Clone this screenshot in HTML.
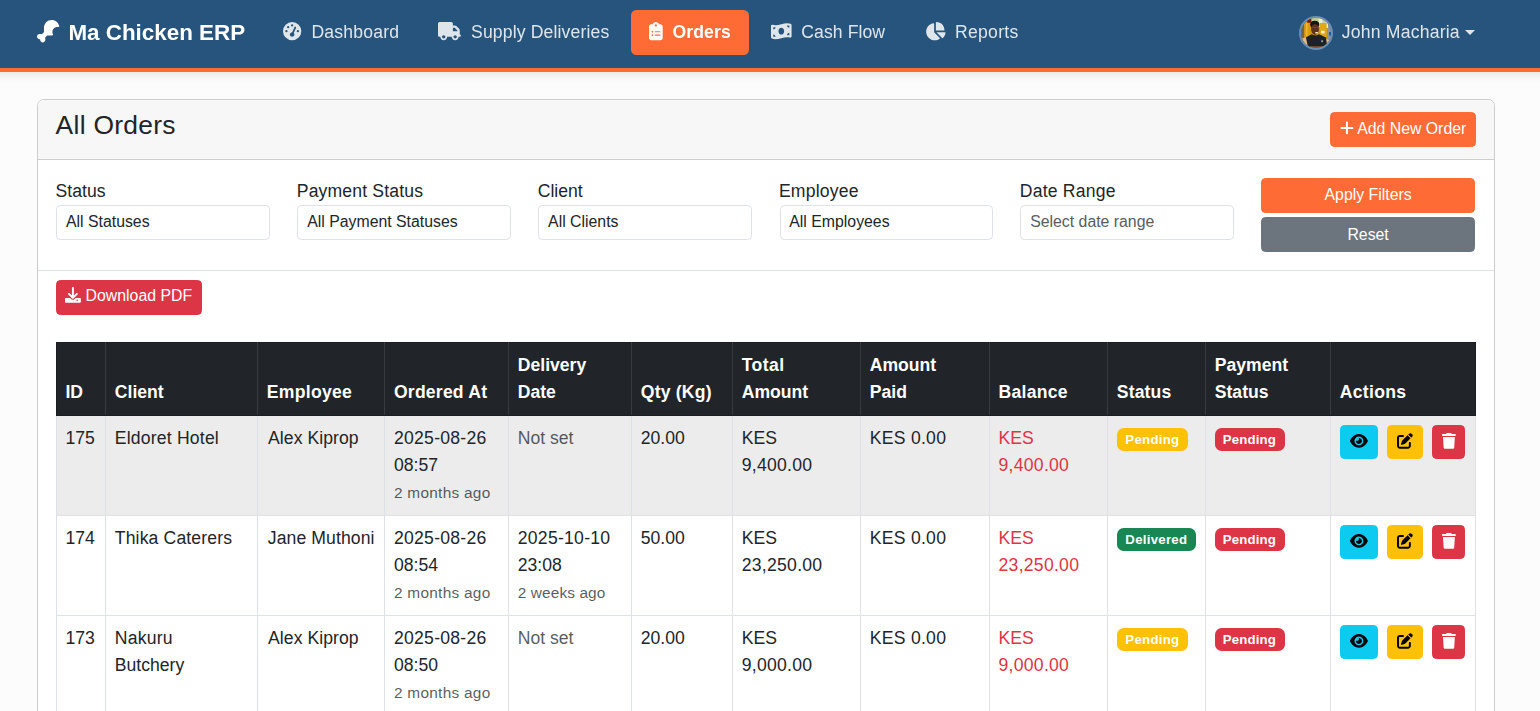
<!DOCTYPE html>
<html lang="en">
<head>
<meta charset="utf-8">
<title>All Orders - Ma Chicken ERP</title>
<style>
html{font-size:17.6px}
*{box-sizing:border-box}
body{margin:0;width:1540px;height:711px;overflow:hidden;background:#fcfcfc;color:#212529;
 font-family:"Liberation Sans",Arial,sans-serif;font-size:17.6px;line-height:27.28px;position:relative}
svg.i{display:inline-block;height:1em;vertical-align:-0.125em;fill:currentColor;overflow:visible}

/* navbar */
.nb{will-change:transform;position:absolute;left:0;top:0;width:1540px;height:72px;background:#26547c;border-bottom:4px solid #ff6b35;
 }
.nbs{position:absolute;left:-30px;top:0;width:1600px;height:72px;box-shadow:0 2px 10px rgba(0,0,0,.1)}
.brand{position:absolute;left:37px;top:10px;height:45.7px;padding-top:5.5px;font-size:22.4px;font-weight:700;color:#fff;line-height:34.72px;white-space:nowrap}
.brand svg{width:22.4px;margin-right:9px}
.nl{position:absolute;top:10.1px;height:44.8px;padding:8.8px 17.6px;color:rgba(255,255,255,.85);white-space:nowrap;border-radius:5.3px;font-size:17.6px;line-height:27.28px}
.nl svg{margin-right:9.3px;height:1.04em;vertical-align:-.165em}
.nl.act{background:#ff6b35;color:#fff;font-weight:700}
.user{position:absolute;top:10.1px;left:1298.8px;height:44.8px;color:rgba(255,255,255,.85);white-space:nowrap;line-height:27.28px;padding-top:8.8px}
.avatar{position:absolute;left:.2px;top:5.9px;width:34px;height:34px;border-radius:50%;border:2px solid #6a8fb4;overflow:hidden;background:#7a6a20}
.uname{position:absolute;left:43px;top:8.8px;letter-spacing:.2px}
.caret{position:absolute;left:166.4px;top:20px;width:0;height:0;border-top:5.28px solid rgba(255,255,255,.85);border-left:5.28px solid transparent;border-right:5.28px solid transparent}

/* card */
.card{position:absolute;left:37px;top:99px;width:1458px;height:700px;background:#fff;border:1px solid #cdcdcd;border-radius:6.6px 6.6px 0 0}
.ch{position:absolute;left:0;top:0;width:1456px;height:60px;background:#f7f7f7;border-bottom:1px solid #cdcdcd;border-radius:5.6px 5.6px 0 0}
.ch h4{position:absolute;left:17.6px;top:10.1px;letter-spacing:.29px;margin:0;font-size:26.4px;font-weight:500;line-height:31.68px;font-weight:400;white-space:nowrap}
.btn{display:inline-block;font-size:15.84px;line-height:23.76px;padding:3.9px 8.8px 4.9px;border:1px solid transparent;border-radius:4.4px;color:#fff;white-space:nowrap;text-align:center;vertical-align:middle}
.b-or{background:#ff6b35;border-color:#ff6b35}
.b-gr{background:#6c757d;border-color:#6c757d}
.b-rd{background:#dc3545;border-color:#dc3545}
.b-cy{background:#0dcaf0;border-color:#0dcaf0;color:#000}
.b-yl{background:#ffc107;border-color:#ffc107;color:#000}
.addbtn{position:absolute;left:1292px;top:12.4px}
.flt{position:absolute;left:0;top:60px;width:1456px;height:111px;border-bottom:1px solid #dee2e6}
.fc{position:absolute;top:17.6px;width:213.8px}
.fc label{display:block;height:27.28px;white-space:nowrap;margin-left:-.6px}
.sel{margin-top:0.2px;height:34.7px;border:1px solid #dee2e6;border-radius:4.4px;background:#fff;font-size:15.84px;line-height:23.76px;padding:3.8px 8.8px 5px;white-space:nowrap;color:#212529}
.sel.ph{color:#595c5f}
.fb{position:absolute;left:1223px;width:214.2px}
.fb .btn{display:block;width:100%;padding:4.7px 8.8px 4.5px}
.dl{position:absolute;left:17.6px;top:180.4px;padding-top:2.6px;padding-bottom:6.2px}
.dl svg{position:relative;top:-.5px}

/* table */
table{position:absolute;left:17.6px;top:241.5px;width:1419px;border-collapse:collapse;table-layout:fixed}
th,td{padding:8.8px;border:1px solid #dee2e6;text-align:left;vertical-align:top;font-weight:400;line-height:27.28px}
thead th{background:#212529;color:#fff;border-color:#373b3e;border-top-color:#1b1e21;border-bottom-color:#1b1e21;font-weight:700;vertical-align:bottom}
thead th:first-child{border-left-color:#1b1e21}
thead th:last-child{border-right-color:#1b1e21}
tbody td{padding-top:9.1px;padding-bottom:8.06px}
thead th{padding-top:9.1px;padding-bottom:8.5px}
tbody tr.hv td{background:#ececec}
small{font-size:15.4px;letter-spacing:.27px}
.n{letter-spacing:.26px}
.mut{color:rgba(33,37,41,.75)}
.red{color:#dc3545}
.badge{display:inline-block;font-size:13.2px;font-weight:700;line-height:13.2px;padding:5px 8.58px;border-radius:6.6px;color:#fff;white-space:nowrap;vertical-align:baseline;position:relative;top:.1px}
.bg-w{background:#ffc107;letter-spacing:.3px}
.bg-s{background:#198754;letter-spacing:.29px}
.bg-d{background:#dc3545;letter-spacing:.16px;text-indent:-.5px;padding-right:9.2px}
td.act .btn{padding:3.8px 0 4.74px;position:relative;top:0;left:.1px}
.be{width:38px;margin-right:9.1px}.bp{width:36px;margin-right:9px}.bt{width:33px}
td.act{white-space:nowrap;font-size:17.6px}
</style>
</head>
<body>
<div class="nbs"></div>
<nav class="nb">
 <div class="brand"><svg class="i" viewBox="0 0 512 512"><path d="M160 265.200c0 8.500-3.400 16.600-9.400 22.600l-26.800 26.800c-12.300 12.300-32.500 11.400-49.400 7.200C69.800 320.600 65 320 60 320c-33.100 0-60 26.900-60 60s26.900 60 60 60c6.300 0 12 5.700 12 12c0 33.100 26.900 60 60 60s60-26.900 60-60c0-5-.6-9.800-1.800-14.500c-4.200-16.900-5.200-37.100 7.200-49.400l26.800-26.800c6-6 14.100-9.400 22.600-9.400H336c6.300 0 12.400-.3 18.500-1c11.900-1.200 16.400-15.500 10.800-26c-8.500-15.800-13.300-33.800-13.300-53c0-61.900 50.100-112 112-112c8 0 15.700 .8 23.200 2.400c11.700 2.500 24.100-5.900 22-17.600C494.500 62.500 422.500 0 336 0C238.800 0 160 78.800 160 176v89.200z"/></svg>Ma Chicken ERP</div>
 <div class="nl" style="left:265.4px;letter-spacing:.2px"><svg class="i" style="width:18.3px;margin-right:10.2px" viewBox="0 0 512 512"><path d="M0 256a256 256 0 1 1 512 0A256 256 0 1 1 0 256zM288 96a32 32 0 1 0 -64 0 32 32 0 1 0 64 0zM256 416c35.300 0 64-28.700 64-64c0-17.400-6.900-33.100-18.100-44.600L366 161.700c5.300-12.100-.2-26.300-12.300-31.600s-26.300 .2-31.600 12.300L257.900 288c-.6 0-1.300 0-1.900 0c-35.300 0-64 28.700-64 64s28.700 64 64 64zM176 144a32 32 0 1 0 -64 0 32 32 0 1 0 64 0zM96 288a32 32 0 1 0 0-64 32 32 0 1 0 0 64zm352-32a32 32 0 1 0 -64 0 32 32 0 1 0 64 0z"/></svg>Dashboard</div>
 <div class="nl" style="left:420.4px;letter-spacing:.14px"><svg class="i" style="width:22.9px;margin-right:10.2px" viewBox="0 0 640 512"><path d="M48 0C21.500 0 0 21.500 0 48V368c0 26.500 21.500 48 48 48H64c0 53 43 96 96 96s96-43 96-96H384c0 53 43 96 96 96s96-43 96-96h32c17.700 0 32-14.300 32-32s-14.300-32-32-32V288 256 237.300c0-17-6.700-33.300-18.700-45.300L512 114.700c-12-12-28.300-18.700-45.300-18.700H416V48c0-26.500-21.500-48-48-48H48zM416 160h50.700L544 237.300V256H416V160zM112 416a48 48 0 1 1 96 0 48 48 0 1 1 -96 0zm368-48a48 48 0 1 1 0 96 48 48 0 1 1 0-96z"/></svg>Supply Deliveries</div>
 <div class="nl act" style="left:630.8px;width:118.2px;padding-left:18.6px;letter-spacing:.12px"><svg class="i" style="width:13.7px" viewBox="0 0 384 512"><path d="M192 0c-41.800 0-77.400 26.700-90.500 64H64C28.700 64 0 92.700 0 128V448c0 35.300 28.700 64 64 64H320c35.300 0 64-28.700 64-64V128c0-35.300-28.700-64-64-64H282.500C269.400 26.700 233.800 0 192 0zm0 64a32 32 0 1 1 0 64 32 32 0 1 1 0-64zM72 272a24 24 0 1 1 48 0 24 24 0 1 1 -48 0zm104-16H304c8.800 0 16 7.200 16 16s-7.200 16-16 16H176c-8.800 0-16-7.200-16-16s7.200-16 16-16zM72 368a24 24 0 1 1 48 0 24 24 0 1 1 -48 0zm88 0c0-8.800 7.200-16 16-16H304c8.800 0 16 7.200 16 16s-7.200 16-16 16H176c-8.800 0-16-7.200-16-16z"/></svg>Orders</div>
 <div class="nl" style="left:753.8px;letter-spacing:.08px"><svg class="i" style="width:20.6px" viewBox="0 0 576 512"><path d="M0 112.500V422.300c0 18 10.100 35 27 41.300c87 32.500 174 10.300 261-11.900c79.800-20.300 159.600-40.700 239.300-18.900c23 6.300 48.700-9.500 48.700-33.400V89.700c0-18-10.100-35-27-41.300C462 15.900 375 38.100 288 60.300C208.200 80.600 128.400 100.900 48.700 79.100C25.600 72.800 0 88.600 0 112.500zM288 352c-44.200 0-80-43-80-96s35.800-96 80-96s80 43 80 96s-35.800 96-80 96zM64 352c35.300 0 64 28.700 64 64H64V352zm64-208c0 35.300-28.700 64-64 64V144h64zM512 304v64H448c0-35.300 28.700-64 64-64zM448 96h64v64c-35.300 0-64-28.700-64-64z"/></svg>Cash Flow</div>
 <div class="nl" style="left:907.4px;letter-spacing:.3px"><svg class="i" style="width:20.6px" viewBox="0 0 576 512"><path d="M304 240V16.600c0-9 7-16.600 16-16.600C443.700 0 544 100.300 544 224c0 9-7.600 16-16.600 16H304zM32 272C32 150.700 122.100 50.300 239 34.300c9.200-1.300 17 6.100 17 15.400V288L412.500 444.500c6.700 6.700 6.200 17.700-1.500 23.100C371.800 495.600 323.800 512 272 512C139.500 512 32 404.600 32 272zm526.400 16c9.300 0 16.600 7.800 15.400 17c-7.700 55.900-34.600 105.600-73.900 142.300c-6 5.600-15.400 5.200-21.200-.7L320 288H558.400z"/></svg>Reports</div>
 <div class="user">
  <div class="avatar"><svg viewBox="0 0 30 30" width="30" height="30" style="display:block"><defs><filter id="bl" x="-10%" y="-10%" width="120%" height="120%"><feGaussianBlur stdDeviation="0.45"/></filter></defs><g filter="url(#bl)"><rect x="-2" y="-2" width="34" height="34" fill="#c2921c"/><rect x="-2" y="-2" width="5.300" height="34" fill="#6d6a48"/><rect x="3.300" y="4" width="6.500" height="16" fill="#dc9a10"/><rect x="5" y="5" width="1.500" height="13" fill="#f0b830"/><rect x="6.200" y="0.500" width="4.300" height="4.200" fill="#7a1418"/><rect x="10.500" y="-2" width="17" height="11" fill="#c4cc98"/><rect x="17.600" y="0" width="3.900" height="9" fill="#e6efd0"/><rect x="24.500" y="2" width="3" height="8" fill="#e4ecd0"/><rect x="18.600" y="5" width="7" height="14" fill="#e0a818"/><rect x="20" y="12.800" width="3.600" height="2.600" fill="#f8f0cc"/><rect x="27" y="4" width="5" height="22" fill="#8a96a0"/><rect x="28" y="14" width="2.500" height="3.500" fill="#1c5ca0"/><ellipse cx="13.700" cy="6.400" rx="4.500" ry="3.600" fill="#151515"/><ellipse cx="14" cy="11.300" rx="3.900" ry="5.400" fill="#5e3220"/><rect x="11" y="9.200" width="6.500" height=".8" fill="#6e4a3a"/><rect x="14.200" y="13.900" width="2.800" height="1.500" rx=".6" fill="#f4ece4"/><path d="M1.200 20.400L5.600 19 9.600 28.400 4.200 28z" fill="#e8b88a"/><path d="M24.300 20.400L28.200 22.300 26.600 27.200 22.600 27.600z" fill="#e8b88a"/><path d="M4.900 19.600L10.500 16.300 13 17.200 16 17.200 18.200 16.300 24.900 19.400 26.400 29 7.200 30z" fill="#1c2428"/><rect x="9" y="28.300" width="13.500" height="3" fill="#8a5638"/><rect x="20.200" y="22.300" width="1.800" height="1.800" fill="#98a0a0"/></g></svg></div>
  <span class="uname">John Macharia</span><span class="caret"></span>
 </div>
</nav>

<div class="card">
 <div class="ch">
  <h4>All Orders</h4>
  <span class="btn b-or addbtn"><svg class="i" style="width:13.86px" viewBox="0 0 448 512"><path d="M256 80c0-17.700-14.300-32-32-32s-32 14.300-32 32V224H48c-17.700 0-32 14.300-32 32s14.300 32 32 32H192V432c0 17.700 14.300 32 32 32s32-14.300 32-32V288H400c17.700 0 32-14.300 32-32s-14.300-32-32-32H256V80z"/></svg> Add New Order</span>
 </div>
 <div class="flt">
  <div class="fc" style="left:18.2px"><label>Status</label><div class="sel">All Statuses</div></div>
  <div class="fc" style="left:259.4px"><label style="letter-spacing:.15px">Payment Status</label><div class="sel">All Payment Statuses</div></div>
  <div class="fc" style="left:500.3px"><label>Client</label><div class="sel">All Clients</div></div>
  <div class="fc" style="left:741.5px"><label style="letter-spacing:.2px">Employee</label><div class="sel">All Employees</div></div>
  <div class="fc" style="left:982.4px"><label style="letter-spacing:.2px">Date Range</label><div class="sel ph">Select date range</div></div>
  <div class="fb" style="top:17.8px"><span class="btn b-or">Apply Filters</span></div>
  <div class="fb" style="top:57px"><span class="btn b-gr">Reset</span></div>
 </div>
 <span class="btn b-rd dl"><svg class="i" style="width:15.84px" viewBox="0 0 512 512"><path d="M288 32c0-17.700-14.300-32-32-32s-32 14.300-32 32V274.700l-73.400-73.400c-12.500-12.500-32.800-12.500-45.300 0s-12.500 32.800 0 45.300l128 128c12.500 12.500 32.800 12.500 45.300 0l128-128c12.500-12.500 12.500-32.800 0-45.300s-32.800-12.500-45.300 0L288 274.700V32zM28 352c-15.500 0-28 12.500-28 28v104c0 15.500 12.500 28 28 28H484c15.500 0 28-12.500 28-28V380c0-15.500-12.500-28-28-28H346.500l-45.300 45.300c-25 25-65.500 25-90.500 0L165.500 352H28zm368 56a24 24 0 1 1 0 48 24 24 0 1 1 0-48z"/></svg> Download PDF</span>

 <table>
  <colgroup><col style="width:49.4px"><col style="width:152px"><col style="width:127.2px"><col style="width:123.8px"><col style="width:123px"><col style="width:101px"><col style="width:128px"><col style="width:128.8px"><col style="width:118.2px"><col style="width:98px"><col style="width:125px"><col style="width:144.6px"></colgroup>
  <thead><tr><th>ID</th><th>Client</th><th style="letter-spacing:.28px">Employee</th><th style="letter-spacing:.2px">Ordered At</th><th>Delivery<br>Date</th><th style="letter-spacing:.2px">Qty (Kg)</th><th><span style="letter-spacing:.4px">Total</span><br>Amount</th><th>Amount<br>Paid</th><th style="letter-spacing:.25px">Balance</th><th style="letter-spacing:.15px">Status</th><th>Payment<br>Status</th><th style="letter-spacing:.3px">Actions</th></tr></thead>
  <tbody>
   <tr class="hv"><td>175</td><td style="letter-spacing:.19px">Eldoret Hotel</td><td style="white-space:nowrap;text-indent:1.3px;letter-spacing:.05px">Alex Kiprop</td><td><span class="n">2025-08-26</span><br>08:57<br><small class="mut">2 months ago</small></td><td><span class="mut">Not set</span></td><td>20.00</td><td>KES<br><span class="n">9,400.00</span></td><td class="n">KES 0.00</td><td class="red">KES<br><span class="n">9,400.00</span></td><td><span class="badge bg-w">Pending</span></td><td><span class="badge bg-d">Pending</span></td><td class="act"><span class="btn b-cy be"><svg class="i" style="width:17.82px" viewBox="0 0 576 512"><path d="M288 32c-80.800 0-145.500 36.800-192.600 80.600C48.600 156 17.300 208 2.500 243.700c-3.300 7.900-3.300 16.700 0 24.600C17.300 304 48.600 356 95.400 399.400C142.500 443.200 207.200 480 288 480s145.500-36.800 192.600-80.600c46.800-43.500 78.100-95.400 93-131.100c3.300-7.900 3.300-16.700 0-24.600c-14.900-35.700-46.200-87.700-93-131.100C433.500 68.800 368.800 32 288 32zM144 256a144 144 0 1 1 288 0 144 144 0 1 1 -288 0zm144-64c0 35.300-28.700 64-64 64c-7.100 0-13.900-1.200-20.300-3.300c-5.500-1.800-11.900 1.600-11.700 7.400c.3 6.900 1.300 13.800 3.200 20.700c13.700 51.200 66.400 81.600 117.600 67.900s81.600-66.400 67.900-117.600c-11.100-41.500-47.800-69.400-88.600-71.100c-5.800-.2-9.200 6.100-7.400 11.700c2.100 6.400 3.300 13.200 3.300 20.300z"/></svg></span><span class="btn b-yl bp"><svg class="i" style="width:15.84px" viewBox="0 0 512 512"><path d="M471.600 21.700c-21.900-21.900-57.300-21.900-79.200 0L362.300 51.700l97.900 97.900 30.100-30.100c21.900-21.900 21.900-57.300 0-79.200L471.600 21.700zm-299.200 220c-6.100 6.100-10.800 13.600-13.500 21.900l-29.600 88.800c-2.900 8.600-.6 18.100 5.800 24.600s15.900 8.700 24.600 5.800l88.800-29.600c8.200-2.700 15.700-7.400 21.900-13.500L437.700 172.300 339.700 74.300 172.400 241.700zM96 64C43 64 0 107 0 160V416c0 53 43 96 96 96H352c53 0 96-43 96-96V320c0-17.700-14.300-32-32-32s-32 14.300-32 32v96c0 17.700-14.300 32-32 32H96c-17.700 0-32-14.300-32-32V160c0-17.700 14.300-32 32-32h96c17.700 0 32-14.300 32-32s-14.300-32-32-32H96z"/></svg></span><span class="btn b-rd bt"><svg class="i" style="width:13.86px" viewBox="0 0 448 512"><path d="M135.200 17.700L128 32H32C14.300 32 0 46.300 0 64S14.300 96 32 96H416c17.700 0 32-14.300 32-32s-14.300-32-32-32H320l-7.200-14.300C307.400 6.800 296.300 0 284.200 0H163.800c-12.100 0-23.200 6.800-28.600 17.700zM416 128H32L53.200 467c1.600 25.300 22.600 45 47.900 45H346.900c25.300 0 46.300-19.700 47.900-45L416 128z"/></svg></span></td></tr>
   <tr><td>174</td><td style="letter-spacing:.14px">Thika Caterers</td><td style="white-space:nowrap;text-indent:1px;letter-spacing:.1px">Jane Muthoni</td><td><span class="n">2025-08-26</span><br>08:54<br><small class="mut">2 months ago</small></td><td><span class="n">2025-10-10</span><br>23:08<br><small class="mut" style="letter-spacing:.11px">2 weeks ago</small></td><td>50.00</td><td>KES<br><span class="n">23,250.00</span></td><td class="n">KES 0.00</td><td class="red">KES<br><span class="n">23,250.00</span></td><td><span class="badge bg-s">Delivered</span></td><td><span class="badge bg-d">Pending</span></td><td class="act"><span class="btn b-cy be"><svg class="i" style="width:17.82px" viewBox="0 0 576 512"><path d="M288 32c-80.800 0-145.500 36.800-192.600 80.600C48.600 156 17.300 208 2.500 243.700c-3.300 7.900-3.300 16.700 0 24.600C17.300 304 48.600 356 95.400 399.400C142.500 443.200 207.200 480 288 480s145.500-36.800 192.600-80.600c46.800-43.500 78.100-95.400 93-131.100c3.300-7.900 3.300-16.700 0-24.600c-14.900-35.700-46.200-87.700-93-131.100C433.500 68.800 368.800 32 288 32zM144 256a144 144 0 1 1 288 0 144 144 0 1 1 -288 0zm144-64c0 35.300-28.700 64-64 64c-7.100 0-13.900-1.200-20.300-3.300c-5.500-1.800-11.900 1.600-11.700 7.400c.3 6.900 1.300 13.800 3.200 20.700c13.700 51.200 66.400 81.600 117.600 67.900s81.600-66.400 67.900-117.600c-11.100-41.500-47.800-69.400-88.600-71.100c-5.800-.2-9.200 6.100-7.400 11.700c2.100 6.400 3.300 13.200 3.300 20.300z"/></svg></span><span class="btn b-yl bp"><svg class="i" style="width:15.84px" viewBox="0 0 512 512"><path d="M471.600 21.700c-21.900-21.900-57.300-21.900-79.200 0L362.300 51.700l97.900 97.900 30.100-30.100c21.900-21.900 21.900-57.300 0-79.200L471.600 21.700zm-299.200 220c-6.100 6.100-10.800 13.600-13.500 21.900l-29.600 88.800c-2.900 8.600-.6 18.100 5.800 24.600s15.900 8.700 24.600 5.800l88.800-29.600c8.200-2.700 15.700-7.400 21.900-13.500L437.700 172.300 339.700 74.300 172.400 241.700zM96 64C43 64 0 107 0 160V416c0 53 43 96 96 96H352c53 0 96-43 96-96V320c0-17.700-14.300-32-32-32s-32 14.300-32 32v96c0 17.700-14.300 32-32 32H96c-17.700 0-32-14.300-32-32V160c0-17.700 14.300-32 32-32h96c17.700 0 32-14.300 32-32s-14.300-32-32-32H96z"/></svg></span><span class="btn b-rd bt"><svg class="i" style="width:13.86px" viewBox="0 0 448 512"><path d="M135.200 17.700L128 32H32C14.300 32 0 46.300 0 64S14.300 96 32 96H416c17.700 0 32-14.300 32-32s-14.300-32-32-32H320l-7.200-14.300C307.400 6.800 296.300 0 284.200 0H163.800c-12.100 0-23.200 6.800-28.600 17.700zM416 128H32L53.200 467c1.600 25.300 22.600 45 47.900 45H346.900c25.300 0 46.300-19.700 47.900-45L416 128z"/></svg></span></td></tr>
   <tr><td>173</td><td><span style="letter-spacing:.2px">Nakuru</span><br>Butchery</td><td style="white-space:nowrap;text-indent:1.3px;letter-spacing:.05px">Alex Kiprop</td><td><span class="n">2025-08-26</span><br>08:50<br><small class="mut">2 months ago</small></td><td><span class="mut">Not set</span></td><td>20.00</td><td>KES<br><span class="n">9,000.00</span></td><td class="n">KES 0.00</td><td class="red">KES<br><span class="n">9,000.00</span></td><td><span class="badge bg-w">Pending</span></td><td><span class="badge bg-d">Pending</span></td><td class="act"><span class="btn b-cy be"><svg class="i" style="width:17.82px" viewBox="0 0 576 512"><path d="M288 32c-80.800 0-145.500 36.800-192.600 80.600C48.600 156 17.300 208 2.500 243.700c-3.300 7.900-3.300 16.700 0 24.600C17.300 304 48.600 356 95.400 399.400C142.500 443.200 207.200 480 288 480s145.500-36.800 192.600-80.600c46.800-43.500 78.100-95.400 93-131.100c3.300-7.900 3.300-16.700 0-24.600c-14.900-35.700-46.200-87.700-93-131.100C433.500 68.800 368.800 32 288 32zM144 256a144 144 0 1 1 288 0 144 144 0 1 1 -288 0zm144-64c0 35.300-28.700 64-64 64c-7.100 0-13.900-1.200-20.300-3.300c-5.500-1.800-11.900 1.600-11.700 7.400c.3 6.900 1.300 13.800 3.200 20.700c13.700 51.200 66.400 81.600 117.600 67.900s81.600-66.400 67.900-117.600c-11.100-41.500-47.800-69.400-88.600-71.100c-5.800-.2-9.200 6.100-7.400 11.700c2.100 6.400 3.300 13.200 3.300 20.300z"/></svg></span><span class="btn b-yl bp"><svg class="i" style="width:15.84px" viewBox="0 0 512 512"><path d="M471.600 21.700c-21.900-21.900-57.300-21.900-79.200 0L362.300 51.700l97.900 97.900 30.100-30.100c21.900-21.900 21.900-57.300 0-79.200L471.600 21.700zm-299.200 220c-6.100 6.100-10.800 13.600-13.500 21.900l-29.600 88.800c-2.900 8.600-.6 18.100 5.800 24.600s15.900 8.700 24.600 5.800l88.800-29.600c8.200-2.700 15.700-7.400 21.900-13.500L437.700 172.300 339.700 74.300 172.400 241.700zM96 64C43 64 0 107 0 160V416c0 53 43 96 96 96H352c53 0 96-43 96-96V320c0-17.700-14.300-32-32-32s-32 14.300-32 32v96c0 17.700-14.300 32-32 32H96c-17.700 0-32-14.300-32-32V160c0-17.700 14.300-32 32-32h96c17.700 0 32-14.300 32-32s-14.300-32-32-32H96z"/></svg></span><span class="btn b-rd bt"><svg class="i" style="width:13.86px" viewBox="0 0 448 512"><path d="M135.200 17.700L128 32H32C14.300 32 0 46.300 0 64S14.300 96 32 96H416c17.700 0 32-14.300 32-32s-14.300-32-32-32H320l-7.200-14.300C307.400 6.800 296.300 0 284.200 0H163.800c-12.100 0-23.200 6.800-28.600 17.700zM416 128H32L53.200 467c1.600 25.300 22.600 45 47.900 45H346.900c25.300 0 46.300-19.700 47.900-45L416 128z"/></svg></span></td></tr>
  </tbody>
 </table>
</div>
</body>
</html>
